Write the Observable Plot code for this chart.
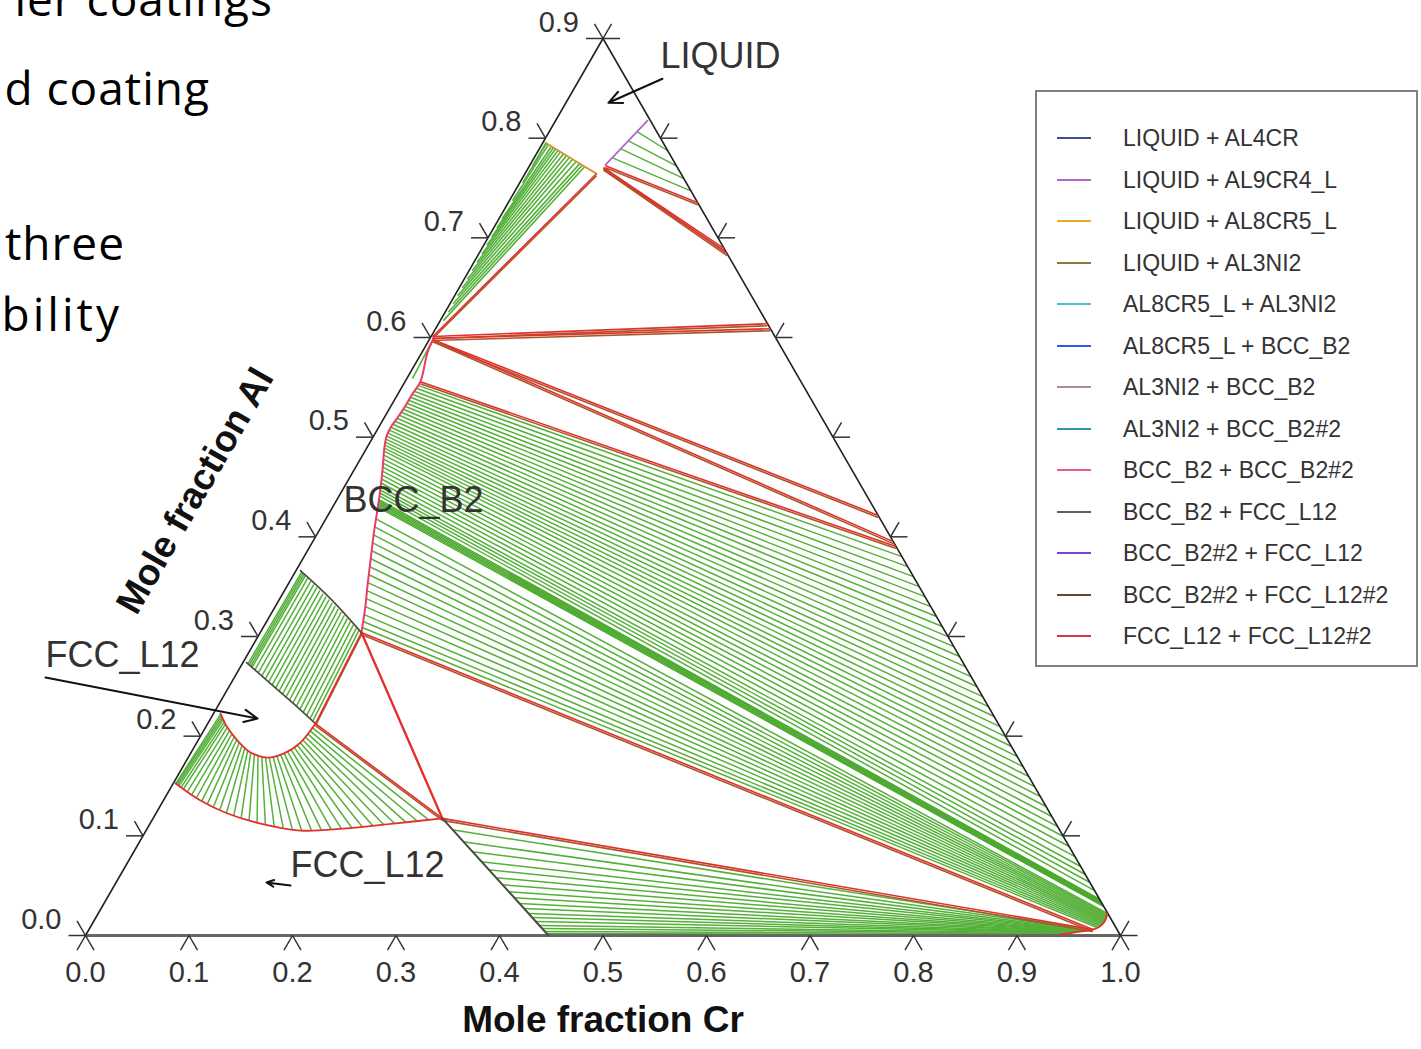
<!DOCTYPE html>
<html>
<head>
<meta charset="utf-8">
<script src="https://cdn.jsdelivr.net/npm/d3@7"></script>
<script src="https://cdn.jsdelivr.net/npm/@observablehq/plot@0.6"></script>
<style>
  html, body { margin: 0; padding: 0; background: #fff; }
  body { width: 1421px; height: 1049px; position: relative; overflow: hidden; font-family: "Liberation Sans", Arial, sans-serif; }
  #chart { position: absolute; left: 0; top: 0; }
  .slide { position: absolute; z-index: 2; font-family: "Open Sans", sans-serif; font-size: 46px; letter-spacing: 1px; color: #000; white-space: nowrap; line-height: 1; text-align: right; }
  #legend { position: absolute; z-index: 2; left: 1035px; top: 90px; width: 379px; height: 573px; border: 2px solid #808080; background: #fff; }
  .row { position: absolute; left: 0; height: 30px; width: 100%; }
  .swatch { position: absolute; left: 20px; top: 14px; width: 34px; height: 2px; }
  .lab { position: absolute; left: 86px; top: 2px; font-size: 23px; color: #333; white-space: nowrap; }
</style>
</head>
<body>
<div id="chart"></div>
<div class="slide" style="right:1148px; top:-25px;">ier coatings</div>
<div class="slide" style="right:1211px; top:64px;">d coating</div>
<div class="slide" style="right:1296px; top:219px;">three</div>
<div class="slide" style="right:1299px; top:290px; letter-spacing:3px;">bility</div>
<div id="legend"></div>
<script>
// Al-Cr-Ni isothermal section: compositions are [Cr, Al] mole fractions.
// The Al axis tops out at 0.9 at the apex of the triangle.
const AL_APEX = 0.9;
const tx = (cr, al) => cr + al * 0.5 / AL_APEX;

const crTicks = [0, 0.1, 0.2, 0.3, 0.4, 0.5, 0.6, 0.7, 0.8, 0.9, 1.0];
const crTickLabels = ["0.0", "0.1", "0.2", "0.3", "0.4", "0.5", "0.6", "0.7", "0.8", "0.9", "1.0"];
const alTicks = [0, 0.1, 0.2, 0.3, 0.4, 0.5, 0.6, 0.7, 0.8, 0.9];
const alTickLabels = ["0.0", "0.1", "0.2", "0.3", "0.4", "0.5", "0.6", "0.7", "0.8", "0.9"];

// Phase boundaries [Cr, Al]
const liquidBoundary = [[0.0888, 0.8175], [0.0728, 0.7733]];
const al8cr5Boundary = [[0.0025, 0.7954], [0.0691, 0.7643]];
const bccB2Boundary = [
  [0.0035, 0.5988], [0.0055, 0.5848], [0.0149, 0.5557], [0.0139, 0.5436], [0.0138, 0.5316],
  [0.0128, 0.5196], [0.0116, 0.5095], [0.0127, 0.5005], [0.0164, 0.4905], [0.0278, 0.4664],
  [0.0389, 0.4413], [0.0471, 0.4213], [0.0554, 0.4012], [0.0664, 0.3761], [0.0774, 0.3511],
  [0.0866, 0.3310], [0.0978, 0.3039]
];
const fccTopBoundary = [[0.0043, 0.3661], [0.0489, 0.3380], [0.0978, 0.3039]];
const fccBottomBoundary = [[0.0035, 0.2738], [0.0383, 0.2528], [0.0717, 0.2327], [0.1041, 0.2126]];
const l12InnerBoundary = [
  [0.0067, 0.2227], [0.0213, 0.2086], [0.0382, 0.1956], [0.0574, 0.1836],
  [0.0766, 0.1785], [0.0899, 0.1825], [0.1001, 0.1936], [0.1041, 0.2126]
];
const l12OuterBoundary = [
  [0.0023, 0.1525], [0.0359, 0.1354], [0.0692, 0.1224], [0.1067, 0.1123],
  [0.1492, 0.1053], [0.1897, 0.1073], [0.2352, 0.1123], [0.2795, 0.1175]
];
const fccCrSideBoundary = [[0.2795, 0.1175], [0.4473, 0.0]];
const bccCrCorner = [
  [0.9751, 0.0221], [0.9769, 0.0140], [0.9745, 0.0085], [0.9700, 0.0060],
  [0.9653, 0.0050], [0.9529, 0.0030], [0.9415, 0.0010]
];

// Three-phase triangle edges [Cr1, Al1, Cr2, Al2]
const triangleEdges = [
  [0.0733, 0.7723, 0.1831, 0.7352],
  [0.0725, 0.7703, 0.2343, 0.6891],
  [0.0725, 0.7703, 0.2399, 0.6841],
  [0.0691, 0.7643, 0.0015, 0.6008],
  [0.0020, 0.5990, 0.3236, 0.6088],
  [0.0020, 0.6010, 0.3180, 0.6138],
  [0.0030, 0.5980, 0.5317, 0.4215],
  [0.0030, 0.5980, 0.5609, 0.3952],
  [0.0149, 0.5557, 0.5664, 0.3902],
  [0.0978, 0.3039, 0.9700, 0.0060],
  [0.2795, 0.1175, 0.9700, 0.0060],
  [0.0978, 0.3039, 0.1041, 0.2126],
  [0.1041, 0.2126, 0.2795, 0.1175]
];
const bccFccEdge = [[0.0978, 0.3039], [0.2795, 0.1175]];

// Tie lines [Cr1, Al1, Cr2, Al2]
const liquidTies = [
  [0.0853, 0.8064, 0.1251, 0.7874],
  [0.0816, 0.7974, 0.1419, 0.7723],
  [0.0783, 0.7894, 0.1563, 0.7593],
  [0.0757, 0.7803, 0.1698, 0.7472]
];
const al3ni2Ties = [
  [0.003, 0.6169, 0.0537, 0.7711], [0.003, 0.6254, 0.0505, 0.7727],
  [0.003, 0.6339, 0.0472, 0.7742], [0.003, 0.6420, 0.0425, 0.7764],
  [0.003, 0.6499, 0.0379, 0.7786], [0.003, 0.6585, 0.0340, 0.7805],
  [0.003, 0.6670, 0.0301, 0.7823], [0.003, 0.6755, 0.0262, 0.7841],
  [0.003, 0.6841, 0.0222, 0.7860], [0.003, 0.6926, 0.0189, 0.7876],
  [0.003, 0.7011, 0.0156, 0.7892], [0.003, 0.7100, 0.0130, 0.7905],
  [0.003, 0.7192, 0.0103, 0.7917], [0.003, 0.7372, 0.0064, 0.7935],
  [0.003, 0.7553, 0.0038, 0.7948], [0.003, 0.7723, 0.0031, 0.7950],
  [0.0035, 0.5988, 0.0055, 0.5587]
];
const bccTiesUpper = [
  [0.0147, 0.552, 0.5777, 0.3801], [0.0145, 0.549, 0.5888, 0.3701], [0.0142, 0.546, 0.5999, 0.3601],
  [0.0139, 0.543, 0.6111, 0.3500], [0.0139, 0.540, 0.6222, 0.3400], [0.0138, 0.537, 0.6333, 0.3300],
  [0.0138, 0.534, 0.6444, 0.3200], [0.0138, 0.531, 0.6556, 0.3100], [0.0136, 0.528, 0.6668, 0.2999],
  [0.0134, 0.525, 0.6779, 0.2899], [0.0131, 0.522, 0.6890, 0.2799], [0.0127, 0.519, 0.7002, 0.2698],
  [0.0124, 0.516, 0.7113, 0.2598], [0.0120, 0.513, 0.7224, 0.2498], [0.0116, 0.510, 0.7337, 0.2397],
  [0.0119, 0.507, 0.7448, 0.2297], [0.0123, 0.504, 0.7559, 0.2197], [0.0127, 0.501, 0.7671, 0.2096],
  [0.0136, 0.498, 0.7782, 0.1996], [0.0147, 0.495, 0.7893, 0.1896], [0.0159, 0.492, 0.8006, 0.1795],
  [0.0171, 0.489, 0.8117, 0.1695], [0.0185, 0.486, 0.8228, 0.1595], [0.0204, 0.482, 0.8340, 0.1494],
  [0.0223, 0.478, 0.8451, 0.1394], [0.0242, 0.474, 0.8562, 0.1294], [0.0261, 0.470, 0.8673, 0.1194],
  [0.0280, 0.466, 0.8786, 0.1093], [0.0298, 0.462, 0.8897, 0.0993], [0.0316, 0.458, 0.9008, 0.0893],
  [0.0334, 0.454, 0.9120, 0.0792], [0.0351, 0.450, 0.9231, 0.0692], [0.0365, 0.447, 0.9320, 0.0612],
  [0.0378, 0.444, 0.9409, 0.0532], [0.0390, 0.441, 0.9499, 0.0451]
];
const bccTiesBand = [
  [0.0402, 0.4375, 0.9594, 0.0365], [0.0409, 0.4360, 0.9611, 0.0350],
  [0.0416, 0.4345, 0.9627, 0.0335], [0.0422, 0.4330, 0.9644, 0.0320],
  [0.0428, 0.4315, 0.9661, 0.0305], [0.0434, 0.4300, 0.9678, 0.0290]
];
const bccTiesLower = [
  [0.0485, 0.418, 0.9755, 0.022], [0.0517, 0.410, 0.9758, 0.021], [0.0550, 0.402, 0.9761, 0.020],
  [0.0586, 0.394, 0.9763, 0.019], [0.0621, 0.386, 0.9765, 0.018], [0.0656, 0.378, 0.9767, 0.017],
  [0.0691, 0.370, 0.9768, 0.016], [0.0726, 0.362, 0.9769, 0.015], [0.0761, 0.354, 0.9768, 0.014],
  [0.0797, 0.346, 0.9766, 0.013], [0.0834, 0.338, 0.9763, 0.012], [0.0870, 0.330, 0.9757, 0.011],
  [0.0903, 0.322, 0.9750, 0.010], [0.0932, 0.315, 0.9740, 0.009], [0.0957, 0.309, 0.9728, 0.008]
];
const fccCrTies = [
  [0.2953, 0.106, 0.968, 0.0058], [0.3126, 0.094, 0.967, 0.0056], [0.3269, 0.084, 0.966, 0.0054],
  [0.3412, 0.074, 0.965, 0.0052], [0.3527, 0.066, 0.964, 0.0050], [0.3642, 0.058, 0.963, 0.0048],
  [0.3742, 0.051, 0.962, 0.0046], [0.3842, 0.044, 0.961, 0.0044], [0.3928, 0.038, 0.960, 0.0042],
  [0.4014, 0.032, 0.958, 0.0040], [0.4086, 0.027, 0.956, 0.0037], [0.4158, 0.022, 0.954, 0.0034],
  [0.4215, 0.018, 0.952, 0.0031], [0.4272, 0.014, 0.950, 0.0028], [0.4330, 0.010, 0.948, 0.0024],
  [0.4373, 0.007, 0.946, 0.0020], [0.4416, 0.004, 0.944, 0.0015], [0.4444, 0.002, 0.942, 0.0010]
];
const upperFccTies = [
  [0.0055, 0.2726, 0.0062, 0.3649], [0.0075, 0.2714, 0.0080, 0.3636], [0.0095, 0.2701, 0.0099, 0.3624],
  [0.0115, 0.2689, 0.0118, 0.3611], [0.0156, 0.2665, 0.0155, 0.3586], [0.0206, 0.2634, 0.0202, 0.3555],
  [0.0256, 0.2603, 0.0249, 0.3524], [0.0307, 0.2573, 0.0295, 0.3493], [0.0357, 0.2542, 0.0342, 0.3462],
  [0.0407, 0.2512, 0.0389, 0.3431], [0.0458, 0.2481, 0.0436, 0.3400], [0.0508, 0.2450, 0.0482, 0.3369],
  [0.0558, 0.2420, 0.0529, 0.3338], [0.0608, 0.2389, 0.0576, 0.3307], [0.0659, 0.2359, 0.0623, 0.3275],
  [0.0709, 0.2328, 0.0669, 0.3244], [0.0759, 0.2297, 0.0716, 0.3213], [0.0810, 0.2267, 0.0763, 0.3182],
  [0.0860, 0.2236, 0.0810, 0.3151], [0.0910, 0.2206, 0.0856, 0.3120], [0.0961, 0.2175, 0.0903, 0.3089],
  [0.1001, 0.2151, 0.0941, 0.3064]
];
const l12Ties = [
  [0.0073, 0.2221, 0.0025, 0.1524], [0.0091, 0.2204, 0.0036, 0.1518], [0.0109, 0.2187, 0.0052, 0.1510],
  [0.0127, 0.2169, 0.0070, 0.1501], [0.0151, 0.2146, 0.0098, 0.1487], [0.0175, 0.2123, 0.0130, 0.1470],
  [0.0211, 0.2088, 0.0183, 0.1444], [0.0250, 0.2058, 0.0241, 0.1414], [0.0290, 0.2027, 0.0305, 0.1382],
  [0.0329, 0.1997, 0.0373, 0.1349], [0.0369, 0.1966, 0.0444, 0.1321], [0.0410, 0.1939, 0.0519, 0.1292],
  [0.0452, 0.1913, 0.0597, 0.1261], [0.0493, 0.1886, 0.0679, 0.1229], [0.0535, 0.1860, 0.0763, 0.1205],
  [0.0577, 0.1835, 0.0848, 0.1182], [0.0619, 0.1824, 0.0937, 0.1158], [0.0660, 0.1813, 0.1028, 0.1134],
  [0.0702, 0.1802, 0.1119, 0.1114], [0.0744, 0.1791, 0.1212, 0.1099], [0.0781, 0.1789, 0.1308, 0.1083],
  [0.0812, 0.1799, 0.1405, 0.1067], [0.0843, 0.1808, 0.1503, 0.1054], [0.0874, 0.1818, 0.1594, 0.1058],
  [0.0903, 0.1829, 0.1686, 0.1063], [0.0922, 0.1850, 0.1780, 0.1067], [0.0942, 0.1871, 0.1877, 0.1072],
  [0.0961, 0.1892, 0.1972, 0.1081], [0.0980, 0.1913, 0.2067, 0.1092], [0.1000, 0.1935, 0.2164, 0.1102],
  [0.1007, 0.1964, 0.2262, 0.1113], [0.1013, 0.1995, 0.2362, 0.1124], [0.1020, 0.2025, 0.2461, 0.1138],
  [0.1026, 0.2055, 0.2562, 0.1151], [0.1032, 0.2086, 0.2663, 0.1165]
];

// Phase-field labels and their pointers [Cr, Al]
const phaseLabels = [
  { text: "LIQUID", cr: 0.0657, al: 0.8817 },
  { text: "BCC_B2", cr: 0.0069, al: 0.4363 },
  { text: "FCC_L12", cr: -0.1946, al: 0.2808 },
  { text: "FCC_L12", cr: 0.1591, al: 0.0702 }
];
const phasePointers = [
  { cr1: 0.0799, al1: 0.8596, cr2: 0.0411, al2: 0.8355 },
  { cr1: -0.1824, al1: 0.2588, cr2: 0.0453, al2: 0.2177 },
  { cr1: 0.1702, al1: 0.0502, cr2: 0.1453, al2: 0.0532 }
];

// Legend entries
const legendLabels = [
  "LIQUID + AL4CR", "LIQUID + AL9CR4_L", "LIQUID + AL8CR5_L", "LIQUID + AL3NI2",
  "AL8CR5_L + AL3NI2", "AL8CR5_L + BCC_B2", "AL3NI2 + BCC_B2", "AL3NI2 + BCC_B2#2",
  "BCC_B2 + BCC_B2#2", "BCC_B2 + FCC_L12", "BCC_B2#2 + FCC_L12", "BCC_B2#2 + FCC_L12#2",
  "FCC_L12 + FCC_L12#2"
];
const legendColors = [
  "#3f4f8c", "#b067c8", "#e6a92a", "#8a7a3c", "#4cc0dc", "#3558e8", "#b08a96",
  "#2f93ab", "#e85a8a", "#606060", "#7a45d6", "#5e4a3a", "#d6344a"
];

const C = {
  tie: "#55b03a", red: "#e2302c", brown: "#a8582a", pink: "#ee3a6a",
  purple: "#b067c8", orange: "#d0952a", dark: "#4a4a40", axis: "#222"
};

const links = (data, opts) => Plot.link(data, {
  x1: d => tx(d[0], d[1]), y1: d => d[1], x2: d => tx(d[2], d[3]), y2: d => d[3], ...opts
});
const path = (pts, opts) => Plot.line(pts, { x: d => tx(d[0], d[1]), y: d => d[1], ...opts });

// Chevron ticks: two short legs along the directions of the other two edges
const T = 17 / 1035;
const tickLegs = [];
crTicks.forEach(c => {
  tickLegs.push([c, 0, c - 0.5 * T, -0.9 * T], [c, 0, c + 0.5 * T, -0.9 * T]);
});
alTicks.forEach(a => {
  const xl = tx(0, a), xr = 1 - a * 0.5 / AL_APEX;
  tickLegs.push([xl, a, xl - T, a], [xl, a, xl - 0.5 * T, a + 0.9 * T]);
  tickLegs.push([xr, a, xr + T, a], [xr, a, xr + 0.5 * T, a + 0.9 * T]);
});

const font = "Liberation Sans, Arial, sans-serif";

const chart = Plot.plot({
  width: 1421, height: 1049,
  marginLeft: 85, marginRight: 301, marginTop: 38, marginBottom: 114,
  x: { domain: [0, 1], axis: null },
  y: { domain: [0, AL_APEX], axis: null },
  style: { fontFamily: font, background: "#fff" },
  marks: [
    // tie lines
    links(liquidTies, { stroke: C.tie, strokeWidth: 1.4 }),
    links(al3ni2Ties, { stroke: C.tie, strokeWidth: 1.6 }),
    links(bccTiesUpper, { stroke: C.tie, strokeWidth: 1.5 }),
    links(bccTiesBand, { stroke: "#48a82a", strokeWidth: 1.4 }),
    links(bccTiesLower, { stroke: C.tie, strokeWidth: 1.5 }),
    links(fccCrTies, { stroke: C.tie, strokeWidth: 1.5 }),
    links(upperFccTies, { stroke: C.tie, strokeWidth: 1.5 }),
    links(l12Ties, { stroke: C.tie, strokeWidth: 1.5 }),

    // triangle frame
    path([[0, 0], [1, 0]], { stroke: "#666", strokeWidth: 3 }),
    path([[0, 0], [0, AL_APEX], [1, 0]], { stroke: C.axis, strokeWidth: 1.6 }),
    Plot.link(tickLegs, { x1: d => d[0], y1: d => d[1], x2: d => d[2], y2: d => d[3], stroke: "#333", strokeWidth: 1.5 }),

    // phase boundaries
    path(liquidBoundary, { stroke: C.purple, strokeWidth: 1.8 }),
    path(al8cr5Boundary, { stroke: C.orange, strokeWidth: 1.8 }),
    links(triangleEdges, { stroke: C.brown, strokeWidth: 1.6, dy: 2 }),
    links(triangleEdges, { stroke: C.red, strokeWidth: 1.6 }),
    path(bccFccEdge, { stroke: C.red, strokeWidth: 2.4 }),
    path(bccB2Boundary, { stroke: C.pink, strokeWidth: 2, curve: "catmull-rom" }),
    path(fccTopBoundary, { stroke: C.dark, strokeWidth: 1.6, curve: "catmull-rom" }),
    path(fccBottomBoundary, { stroke: C.dark, strokeWidth: 1.6, curve: "catmull-rom" }),
    path(l12InnerBoundary, { stroke: C.red, strokeWidth: 1.8, curve: "catmull-rom" }),
    path(l12OuterBoundary, { stroke: C.red, strokeWidth: 1.8, curve: "catmull-rom" }),
    path(fccCrSideBoundary, { stroke: C.dark, strokeWidth: 2 }),
    path(bccCrCorner, { stroke: C.red, strokeWidth: 1.8, curve: "catmull-rom" }),

    // tick labels
    Plot.text(crTicks, { x: d => d, y: 0, text: (d, i) => crTickLabels[i], dy: 37, fontSize: 29, fill: "#333", fontFamily: font }),
    Plot.text(alTicks, { x: d => tx(0, d), y: d => d, text: (d, i) => alTickLabels[i], textAnchor: "end", dx: -24, dy: -16, fontSize: 29, fill: "#333", fontFamily: font }),

    // axis titles
    Plot.text(["Mole fraction Cr"], { frameAnchor: "bottom", dy: 96, fontSize: 37, fontWeight: "bold", fill: "#111", fontFamily: font }),
    Plot.text(["Mole fraction Al"], { x: tx(0, 0.45), y: 0.45, dx: -149, dy: 4, rotate: -60, fontSize: 37, fontWeight: "bold", fill: "#111", fontFamily: font }),

    // phase field labels
    Plot.text(phaseLabels, { x: d => tx(d.cr, d.al), y: d => d.al, text: "text", textAnchor: "start", fontSize: 36, fill: "#333", fontFamily: font }),
    Plot.arrow(phasePointers, {
      x1: d => tx(d.cr1, d.al1), y1: d => d.al1, x2: d => tx(d.cr2, d.al2), y2: d => d.al2,
      stroke: "#111", strokeWidth: 2, headLength: 11, headAngle: 50, insetEnd: 0
    })
  ]
});
document.getElementById("chart").append(chart);

// legend
const legend = document.getElementById("legend");
legendLabels.forEach((label, i) => {
  const row = document.createElement("div");
  row.className = "row";
  row.style.top = (31 + i * 41.5) + "px";
  const sw = document.createElement("div");
  sw.className = "swatch";
  sw.style.background = legendColors[i];
  const lab = document.createElement("div");
  lab.className = "lab";
  lab.textContent = label;
  row.append(sw, lab);
  legend.append(row);
});
</script>
</body>
</html>
